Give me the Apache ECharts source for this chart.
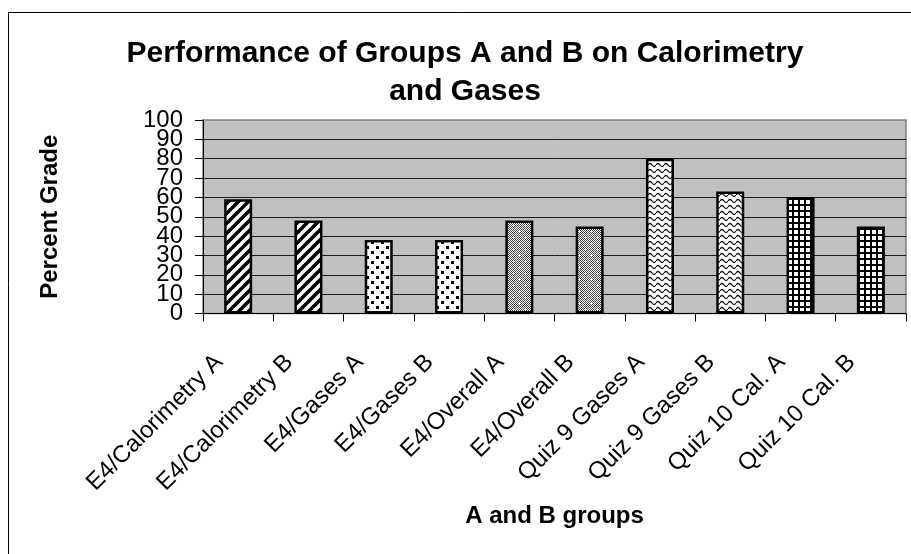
<!DOCTYPE html>
<html>
<head>
<meta charset="utf-8">
<script src="https://cdn.jsdelivr.net/npm/echarts@6/dist/echarts.min.js"></script>
<style>
  html, body { margin: 0; padding: 0; background: #ffffff; }
  #chart { width: 911px; height: 554px; }
</style>
</head>
<body>
<div id="chart"></div>
<script>
// Test groups and their percent grades
const categories = [
  'E4/Calorimetry A', 'E4/Calorimetry B',
  'E4/Gases A', 'E4/Gases B',
  'E4/Overall A', 'E4/Overall B',
  'Quiz 9 Gases A', 'Quiz 9 Gases B',
  'Quiz 10 Cal. A', 'Quiz 10 Cal. B'
];
const grades = [59, 48, 38, 38, 48, 45, 80, 63, 60, 45];
// Fill pattern used for each pair of bars
const patternKeys = ['stripes', 'stripes', 'dots', 'dots', 'stipple', 'stipple', 'waves', 'waves', 'grid', 'grid'];
const yTicks = { min: 0, max: 100, step: 10 };

const FONT = '"Liberation Sans", Arial, Helvetica, sans-serif';

function tile(w, h, draw) {
  const c = document.createElement('canvas');
  c.width = w; c.height = h;
  const ctx = c.getContext('2d');
  ctx.fillStyle = '#ffffff';
  ctx.fillRect(0, 0, w, h);
  draw(ctx, w, h);
  return c;
}

const patterns = {
  // wide upward diagonal stripes
  stripes: tile(10, 10, (ctx, w, h) => {
    ctx.strokeStyle = '#000';
    ctx.lineWidth = 3.6;
    for (let k = -w; k <= w; k += w) {
      ctx.beginPath();
      ctx.moveTo(k - 1, h + 1);
      ctx.lineTo(k + w + 1, -1);
      ctx.stroke();
    }
  }),
  // staggered square dots on white
  dots: tile(10, 10, (ctx) => {
    ctx.fillStyle = '#000';
    [[1, 1], [6, 6]].forEach(([x, y]) => ctx.fillRect(x, y, 3, 3));
  }),
  // fine grey stipple with small white crosses
  stipple: tile(12, 12, (ctx, w, h) => {
    ctx.fillStyle = '#444';
    for (let y = 0; y < h; y++)
      for (let x = 0; x < w; x++)
        if ((x + y) % 2 === 0) ctx.fillRect(x, y, 1, 1);
    ctx.fillStyle = '#fff';
    [[3, 3], [9, 9]].forEach(([x, y]) => {
      ctx.fillRect(x - 1, y, 3, 1);
      ctx.fillRect(x, y - 1, 1, 3);
    });
  }),
  // horizontal wavy lines
  waves: tile(8, 6, (ctx) => {
    ctx.strokeStyle = '#111';
    ctx.lineWidth = 1.3;
    ctx.beginPath();
    ctx.moveTo(-0.01, 3);
    ctx.quadraticCurveTo(2, 0, 4, 3);
    ctx.quadraticCurveTo(6, 6, 8.01, 3);
    ctx.stroke();
  }),
  // square grid
  grid: tile(6, 6, (ctx, w, h) => {
    ctx.fillStyle = '#000';
    ctx.fillRect(0, 0, w, 2);
    ctx.fillRect(0, 0, 2, h);
  })
};

const barData = grades.map((v, i) => ({
  value: v,
  itemStyle: { color: { image: patterns[patternKeys[i]], repeat: 'repeat' } }
}));

// The tick labels sit closer together than their text height, so they are
// split over two overlaid value axes (even and odd tens) to keep every one shown.
const tickLabelStyle = {
  margin: 20, hideOverlap: false, showMinLabel: true, showMaxLabel: true,
  fontFamily: FONT, fontSize: 24, color: '#000'
};
const isEvenStep = (v) => Math.round((v - yTicks.min) / yTicks.step) % 2 === 0;

const chart = echarts.init(document.getElementById('chart'), null, { renderer: 'canvas' });
chart.setOption({
  animation: false,
  backgroundColor: '#ffffff',
  title: {
    text: 'Performance of Groups A and B on Calorimetry\nand Gases',
    left: 460,
    top: 30,
    textAlign: 'center',
    textStyle: {
      fontFamily: FONT, fontSize: 30, fontWeight: 'bold', color: '#000', lineHeight: 38
    }
  },
  graphic: [{
    type: 'rect',
    shape: { x: 8.5, y: 12.5, width: 940, height: 600 },
    style: { fill: 'none', stroke: '#000', lineWidth: 1 },
    silent: true, z: -1
  }],
  grid: {
    left: 203, right: 5, top: 120, bottom: 240.5,
    show: true, backgroundColor: '#c0c0c0', borderColor: '#808080', borderWidth: 1.5
  },
  xAxis: {
    type: 'category',
    data: categories,
    name: 'A and B groups',
    nameLocation: 'middle',
    nameGap: 191,
    nameTextStyle: { fontFamily: FONT, fontSize: 24, fontWeight: 'bold', color: '#000' },
    axisLine: { lineStyle: { color: '#000', width: 1 } },
    axisTick: { show: true, length: 8, lineStyle: { color: '#000' } },
    axisLabel: {
      interval: 0, rotate: 45, margin: 26, padding: [0, 27, 0, 0], hideOverlap: false,
      fontFamily: FONT, fontSize: 24, color: '#000'
    },
    splitLine: { show: false }
  },
  yAxis: [{
    type: 'value',
    min: yTicks.min, max: yTicks.max, interval: yTicks.step,
    name: 'Percent Grade',
    nameLocation: 'middle',
    nameRotate: 90,
    nameGap: 141,
    nameTextStyle: { fontFamily: FONT, fontSize: 24, fontWeight: 'bold', color: '#000' },
    axisLine: { show: true, lineStyle: { color: '#000', width: 1 } },
    axisTick: { show: true, length: 8, lineStyle: { color: '#000' } },
    axisLabel: Object.assign({}, tickLabelStyle, {
      formatter: (v) => (isEvenStep(v) ? String(v) : '')
    }),
    splitLine: { show: true, showMaxLine: false, lineStyle: { color: '#1a1a1a', width: 1 } }
  }, {
    type: 'value',
    position: 'left',
    offset: 0,
    min: yTicks.min, max: yTicks.max, interval: yTicks.step,
    axisLine: { show: false },
    axisTick: { show: false },
    axisLabel: Object.assign({}, tickLabelStyle, {
      formatter: (v) => (isEvenStep(v) ? '' : String(v))
    }),
    splitLine: { show: false }
  }],
  series: [{
    type: 'bar',
    data: barData,
    barWidth: 28,
    itemStyle: { borderColor: '#000', borderWidth: 2.5 }
  }]
});
</script>
</body>
</html>
